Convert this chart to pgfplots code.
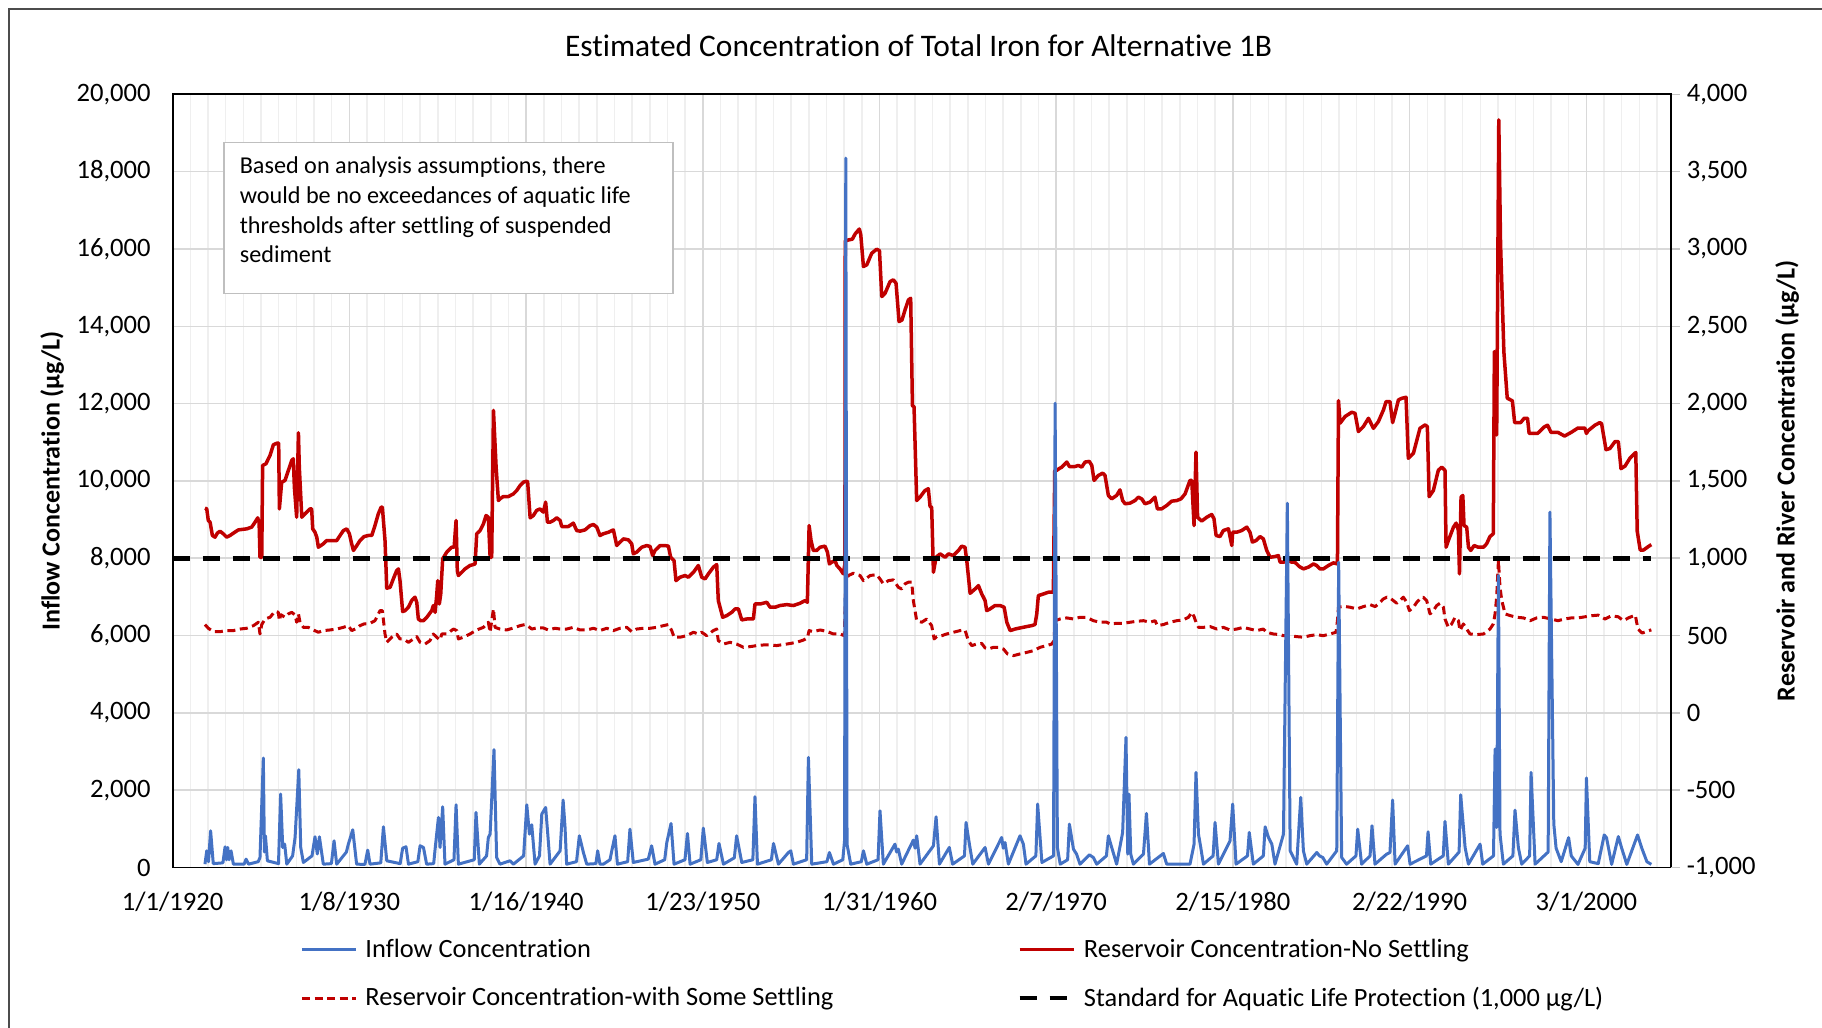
\documentclass[border=0pt]{standalone}
\usepackage{fontspec}
\setmainfont{Carlito}[Ligatures=NoCommon]
\usepackage{pgfplots}
\usepackage{pgfplotstable}
\pgfplotsset{compat=1.18}

\definecolor{inflowblue}{HTML}{4472C4}
\definecolor{resred}{HTML}{C00000}
\definecolor{gridmaj}{HTML}{D9D9D9}
\definecolor{gridmin}{HTML}{EFEFEF}

% x = years since 1/1/1920, y = inflow concentration (ug/L, left axis)
\pgfplotstableread{
x y
1.83 86
1.93 431
2.03 150
2.15 949
2.30 100
2.85 120
2.97 535
3.05 200
3.12 518
3.20 200
3.31 431
3.44 86
4.05 86
4.16 216
4.30 86
4.85 150
4.95 259
5.14 2831
5.20 400
5.26 820
5.37 173
6.00 100
6.12 1899
6.24 518
6.35 604
6.47 86
6.80 300
6.94 777
7.15 2529
7.26 518
7.41 130
7.90 300
8.07 794
8.20 350
8.32 794
8.54 86
9.00 100
9.15 690
9.30 86
9.85 400
9.96 604
10.21 975
10.43 86
10.90 80
11.06 449
11.19 86
11.80 120
11.95 1053
12.14 173
12.90 100
13.04 500
13.23 535
13.37 86
13.90 150
14.03 561
14.22 518
14.40 86
14.80 100
14.88 475
15.07 1295
15.16 518
15.31 1571
15.44 86
15.95 200
16.07 1622
16.20 86
17.10 200
17.20 1424
17.39 86
17.80 300
17.90 777
18.00 863
18.22 3046
18.37 259
18.56 86
19.13 173
19.32 86
19.90 300
20.08 1622
20.23 863
20.36 1105
20.55 86
20.80 300
20.93 1381
21.15 1553
21.27 863
21.40 86
21.97 431
22.14 1743
22.25 1036
22.34 86
22.90 150
23.06 820
23.29 388
23.48 86
24.00 100
24.10 431
24.23 86
24.42 86
24.80 200
24.90 431
25.08 820
25.22 86
25.80 150
25.93 992
26.12 130
26.97 216
27.16 561
27.35 86
27.90 200
28.02 647
28.26 1139
28.43 86
29.05 200
29.19 880
29.34 86
29.95 200
30.09 1018
30.32 130
30.85 200
30.98 621
31.23 86
31.85 250
31.98 820
32.27 130
32.90 200
33.02 1830
33.16 86
33.95 200
34.07 621
34.35 86
34.92 388
35.05 431
35.20 86
35.95 200
36.05 2848
36.24 86
37.10 150
37.24 388
37.47 86
38.00 200
38.10 700
38.17 18347
38.24 600
38.45 86
39.05 150
39.17 431
39.36 86
40.00 200
40.11 1467
40.30 86
40.96 604
41.05 400
41.15 475
41.34 86
42.00 708
42.10 500
42.19 820
42.38 86
43.14 561
43.29 1312
43.48 86
44.04 518
44.23 86
44.90 300
44.99 1165
45.18 604
45.37 86
46.07 518
46.26 86
47.01 777
47.10 500
47.20 647
47.39 86
48.05 820
48.24 604
48.39 86
48.95 300
49.05 1640
49.29 130
49.95 300
50.04 12009
50.17 518
50.33 86
50.75 200
50.85 1122
51.08 475
51.26 345
51.45 86
51.98 328
52.21 259
52.40 86
52.95 300
53.06 820
53.25 518
53.53 86
53.87 906
54.06 3366
54.16 345
54.23 1899
54.33 345
54.48 86
55.05 345
55.22 1398
55.39 86
56.18 362
56.37 86
57.69 86
57.92 604
58.03 2460
58.17 863
58.30 518
58.45 86
59.00 300
59.11 1165
59.30 86
59.96 690
60.11 1640
60.30 86
60.95 300
61.05 906
61.28 86
61.85 300
61.95 1053
62.14 777
62.33 604
62.51 86
62.99 863
63.21 9424
63.37 431
63.74 86
63.97 1812
64.12 431
64.31 86
64.88 388
65.03 302
65.22 259
65.44 86
66.01 431
66.12 7896
66.29 259
66.57 86
67.10 300
67.20 992
67.42 86
67.90 300
68.01 1079
68.18 86
68.84 345
69.03 388
69.18 1743
69.32 86
70.03 561
70.17 86
71.10 300
71.19 923
71.34 86
72.05 300
72.15 1191
72.34 86
72.95 400
73.04 1881
73.29 518
73.48 86
74.14 604
74.29 86
74.90 300
74.99 3064
75.08 1036
75.18 7551
75.27 863
75.46 86
76.00 300
76.12 1484
76.31 518
76.50 86
76.95 300
77.03 2460
77.26 86
78.00 400
78.10 9191
78.32 1123
78.45 500
78.74 150
79.16 772
79.31 300
79.69 80
80.10 500
80.17 2317
80.36 150
80.84 100
81.18 842
81.31 770
81.60 80
81.98 800
82.17 500
82.46 80
83.07 842
83.31 500
83.60 150
83.85 80
}\inflowdata

% reservoir concentration, no settling (right axis)
\pgfplotstableread{
x y
1.83 1324
1.93 1319
2.02 1244
2.12 1233
2.25 1147
2.40 1136
2.53 1162
2.68 1175
2.87 1158
3.06 1136
3.25 1147
3.44 1162
3.72 1183
4.20 1190
4.48 1201
4.67 1233
4.82 1261
4.90 1233
4.95 1006
5.05 1006
5.10 1600
5.29 1611
5.52 1665
5.71 1734
5.94 1745
6.01 1745
6.05 1319
6.18 1492
6.37 1503
6.56 1568
6.75 1632
6.84 1643
6.90 1460
7.03 1265
7.13 1811
7.18 1589
7.32 1265
7.41 1276
7.60 1298
7.79 1319
7.88 1319
7.94 1190
8.07 1168
8.17 1136
8.26 1071
8.54 1093
8.73 1114
9.11 1114
9.30 1114
9.49 1147
9.68 1179
9.87 1190
10.02 1158
10.15 1093
10.25 1050
10.44 1082
10.62 1114
10.85 1140
11.10 1147
11.29 1147
11.47 1211
11.66 1287
11.82 1330
11.89 1330
12.04 1114
12.14 806
12.33 812
12.51 866
12.70 920
12.80 931
12.89 855
13.04 655
13.18 661
13.37 683
13.55 726
13.74 748
13.84 715
13.93 607
14.06 596
14.22 596
14.41 618
14.69 661
14.78 694
14.88 650
14.97 758
15.03 855
15.12 704
15.20 769
15.31 996
15.54 1039
15.82 1071
15.96 1071
16.07 1244
16.14 920
16.20 888
16.39 909
16.58 931
16.86 953
17.05 959
17.15 963
17.24 1158
17.43 1179
17.62 1222
17.77 1276
17.90 1265
18.00 1006
18.09 1006
18.19 1956
18.34 1589
18.47 1373
18.56 1384
18.75 1399
19.04 1399
19.32 1416
19.51 1438
19.70 1470
19.89 1492
20.08 1498
20.13 1492
20.27 1261
20.45 1276
20.64 1309
20.83 1319
21.02 1298
21.15 1363
21.25 1233
21.40 1233
21.59 1244
21.78 1261
21.97 1244
22.06 1205
22.25 1205
22.44 1205
22.72 1227
22.91 1179
23.10 1175
23.38 1183
23.67 1211
23.86 1218
24.05 1201
24.23 1147
24.42 1158
24.71 1168
24.99 1183
25.08 1136
25.18 1082
25.37 1104
25.56 1125
25.84 1119
26.03 1093
26.12 1028
26.31 1039
26.60 1071
26.88 1082
27.07 1076
27.22 1017
27.35 1050
27.64 1082
27.92 1082
28.11 1078
28.24 1006
28.43 985
28.54 855
28.77 877
29.06 888
29.24 877
29.53 909
29.81 953
30.00 877
30.19 866
30.38 899
30.66 942
30.85 959
30.94 726
31.19 618
31.42 629
31.70 650
31.89 672
32.08 672
32.27 601
32.55 607
32.93 607
33.02 704
33.31 704
33.69 715
33.88 683
34.16 683
34.44 694
34.82 700
35.20 694
35.58 709
35.86 726
35.99 715
36.09 1211
36.20 1114
36.33 1050
36.52 1050
36.71 1071
36.99 1078
37.13 1039
37.24 963
37.37 974
37.56 985
37.66 953
37.84 931
38.03 899
38.12 963
38.14 3052
38.32 3058
38.54 3063
38.70 3097
38.94 3129
39.02 3091
39.17 2886
39.36 2897
39.64 2972
39.92 2998
40.08 2989
40.21 2692
40.40 2714
40.68 2789
40.87 2800
41.02 2778
41.19 2530
41.36 2541
41.53 2606
41.72 2670
41.85 2681
41.95 1985
42.04 1980
42.19 1373
42.38 1395
42.66 1438
42.85 1449
42.95 1334
43.04 1330
43.14 909
43.29 1006
43.52 1028
43.80 1006
43.99 1028
44.27 1017
44.56 1050
44.74 1078
44.93 1071
45.03 985
45.22 773
45.50 801
45.69 823
45.88 769
46.07 726
46.16 661
46.35 672
46.63 694
46.92 694
47.15 683
47.30 586
47.49 532
47.77 542
48.05 549
48.43 558
48.71 564
48.90 571
49.00 640
49.09 758
49.38 769
49.66 780
49.94 780
50.02 1568
50.13 1568
50.25 1578
50.42 1589
50.51 1600
50.70 1622
50.85 1593
51.17 1593
51.36 1600
51.55 1589
51.74 1622
51.98 1626
52.12 1600
52.25 1503
52.49 1535
52.74 1550
52.87 1535
53.06 1406
53.25 1384
53.53 1406
53.72 1442
53.87 1373
54.01 1352
54.29 1356
54.57 1373
54.76 1395
54.95 1384
55.14 1352
55.42 1363
55.70 1395
55.84 1319
56.08 1319
56.37 1341
56.65 1369
56.94 1373
57.18 1384
57.41 1416
57.69 1503
57.79 1503
57.92 1211
58.03 1686
58.12 1265
58.35 1240
58.64 1265
58.92 1283
59.05 1255
59.17 1147
59.39 1140
59.58 1179
59.87 1190
60.06 1082
60.11 1168
60.34 1168
60.62 1179
60.91 1201
61.09 1168
61.23 1104
61.43 1114
61.66 1140
61.85 1125
62.04 1050
62.23 1006
62.51 1011
62.70 1017
62.80 974
62.98 974
63.27 985
63.46 974
63.64 974
63.89 946
64.12 931
64.40 942
64.69 963
64.87 953
65.06 931
65.25 931
65.54 953
65.82 970
66.05 963
66.11 2019
66.20 1873
66.48 1916
66.86 1944
67.05 1937
67.24 1819
67.52 1851
67.81 1905
68.09 1840
68.37 1883
68.66 1959
68.81 2013
69.03 2013
69.18 1877
69.32 1937
69.51 2024
69.70 2034
69.94 2041
70.07 1646
70.36 1679
70.73 1840
71.02 1862
71.15 1851
71.25 1398
71.49 1438
71.77 1568
71.96 1589
72.15 1568
72.21 1071
72.34 1114
72.63 1201
72.78 1227
72.91 1179
72.97 899
73.06 1395
73.16 1406
73.23 1211
73.38 1201
73.48 1071
73.61 1050
73.80 1082
74.04 1071
74.33 1071
74.51 1093
74.70 1140
74.89 1158
74.95 2336
75.08 1797
75.20 3834
75.30 3035
75.49 2333
75.68 2035
75.97 2018
76.10 1877
76.44 1877
76.64 1905
76.83 1905
76.92 1807
77.40 1807
77.78 1849
77.97 1860
78.16 1814
78.55 1814
78.93 1790
79.31 1814
79.69 1842
80.08 1842
80.17 1807
80.27 1825
80.65 1860
80.93 1877
81.03 1870
81.28 1702
81.50 1709
81.79 1754
81.98 1754
82.13 1579
82.36 1596
82.65 1649
82.97 1684
83.05 1175
83.22 1053
83.41 1053
83.70 1077
83.85 1088
}\nosettle

% reservoir concentration, with some settling (right axis)
\pgfplotstableread{
x y
1.83 571
2.02 547
2.31 525
2.68 525
3.06 532
3.44 532
3.82 542
4.20 547
4.58 564
4.86 586
4.95 510
5.05 571
5.24 607
5.52 618
5.80 657
5.99 650
6.05 596
6.13 635
6.37 618
6.56 640
6.75 650
6.94 633
7.03 586
7.13 640
7.22 586
7.41 553
7.69 553
7.98 536
8.26 521
8.54 532
8.92 536
9.30 542
9.68 553
9.96 564
10.15 532
10.44 547
10.62 564
10.85 575
11.19 579
11.47 596
11.76 661
11.89 661
12.04 510
12.14 456
12.42 489
12.70 510
12.89 478
13.08 478
13.37 456
13.65 478
13.84 493
14.03 456
14.31 445
14.59 467
14.78 510
14.97 489
15.16 471
15.26 510
15.54 510
15.92 542
16.11 532
16.20 478
16.48 489
16.86 510
17.24 536
17.62 553
17.90 586
18.00 521
18.09 596
18.19 672
18.28 553
18.56 542
18.94 536
19.32 549
19.70 564
19.98 571
20.17 560
20.36 542
20.64 549
21.02 549
21.30 536
21.68 547
21.97 542
22.34 542
22.72 553
23.10 536
23.48 536
23.86 547
24.23 532
24.61 547
24.99 532
25.37 547
25.75 553
26.03 525
26.31 542
26.69 547
27.07 547
27.45 553
27.83 564
28.11 571
28.30 532
28.43 489
28.77 489
29.15 499
29.53 521
29.81 510
30.00 521
30.28 499
30.66 532
30.85 542
30.94 467
31.23 445
31.61 456
31.98 445
32.36 424
32.74 428
33.12 435
33.50 439
33.88 439
34.25 435
34.82 445
35.39 456
35.77 471
35.99 484
36.09 532
36.33 525
36.71 536
37.09 527
37.47 510
37.84 510
38.09 499
38.17 855
38.32 888
38.60 903
38.98 888
39.17 855
39.55 888
39.92 894
40.11 866
40.30 834
40.59 855
40.87 860
41.15 812
41.34 801
41.53 834
41.72 845
41.91 845
42.00 726
42.19 596
42.48 586
42.76 607
43.04 564
43.18 478
43.33 493
43.61 499
43.89 510
44.27 521
44.65 532
44.93 536
45.12 467
45.31 435
45.60 445
45.88 449
46.07 420
46.26 413
46.54 424
46.82 424
47.11 413
47.34 381
47.68 370
48.05 381
48.43 391
48.81 402
49.19 424
49.57 435
49.85 445
49.98 467
50.04 596
50.32 607
50.70 614
51.08 607
51.45 618
51.83 618
52.21 596
52.59 586
52.97 586
53.15 575
53.53 579
53.91 579
54.29 586
54.67 592
55.05 596
55.42 586
55.71 596
55.84 564
56.18 571
56.56 586
56.94 596
57.31 601
57.60 618
57.79 650
57.92 622
58.03 586
58.17 553
58.45 553
58.83 558
59.21 542
59.58 553
59.96 536
60.34 542
60.72 553
61.09 542
61.47 532
61.85 542
62.04 521
62.42 510
62.80 506
62.98 499
63.36 499
63.74 493
64.12 489
64.49 499
64.87 506
65.25 499
65.63 510
65.97 521
66.05 596
66.11 683
66.39 689
66.77 683
67.15 672
67.52 687
67.90 700
68.19 687
68.47 715
68.66 737
68.85 748
69.03 743
69.22 726
69.41 709
69.60 726
69.79 748
69.98 715
70.13 661
70.36 683
70.55 715
70.73 737
70.92 748
71.11 726
71.30 640
71.49 661
71.68 694
71.87 709
72.06 683
72.15 607
72.34 553
72.53 575
72.72 618
72.91 596
73.00 532
73.19 575
73.38 542
73.57 510
73.95 506
74.33 510
74.70 542
74.89 575
74.99 640
75.08 748
75.18 985
75.27 812
75.37 726
75.56 640
75.84 629
76.22 618
76.60 614
76.98 596
77.35 614
77.73 618
78.16 607
78.55 596
78.93 607
79.31 614
79.69 614
80.08 621
80.46 628
80.84 632
81.22 607
81.60 628
81.98 621
82.27 596
82.55 614
82.94 632
83.09 544
83.32 516
83.85 537
}\somesettle

\begin{document}
\begin{tikzpicture}
\useasboundingbox (0,0) rectangle (911pt,514pt);
\draw[black!70, line width=1pt] (4.5pt,-10pt) -- (4.5pt,509.5pt) -- (925pt,509.5pt);
\node[anchor=base, font=\fontsize{15.7}{18}\selectfont, inner sep=0pt] at (459.3pt,485.8pt) {Estimated Concentration of Total Iron for Alternative 1B};

% ---------- axis 1: frame, grid, left scale, dates ----------
\begin{axis}[
  at={(86.35pt,80.25pt)}, anchor=south west,
  scale only axis, width=749pt, height=386.6pt,
  xmin=0, xmax=84.95, ymin=0, ymax=20000,
  xtick={0,10.0205,20.041,30.0616,40.0821,50.1027,60.1232,70.1437,80.1643},
  xticklabels={1/1/1920,1/8/1930,1/16/1940,1/23/1950,1/31/1960,2/7/1970,2/15/1980,2/22/1990,3/1/2000},
  minor xtick={1.00205,2.0041,...,84.9},
  ytick={0,2000,...,20000},
  xmajorgrids, xminorgrids, ymajorgrids,
  major grid style={draw=gridmaj, line width=0.75pt},
  minor grid style={draw=gridmin, line width=0.75pt},
  tick style={draw=none},
  axis line style={black, line width=0.8pt},
  tick label style={font=\fontsize{13.3}{16}\selectfont},
  /pgf/number format/assume math mode=true,
  /pgf/number format/1000 sep={,},
  scaled y ticks=false,
  yticklabel style={xshift=-7.5pt},
  xticklabel style={anchor=base, yshift=-21.3pt},
  ylabel={Inflow Concentration (µg/L)},
  ylabel style={font=\bfseries\fontsize{13}{16}\selectfont, at={(axis description cs:0,0.5)}, anchor=center, yshift=60.3pt},
]
\end{axis}

% ---------- axis 2: reservoir series, right scale ----------
\begin{axis}[
  at={(86.35pt,80.25pt)}, anchor=south west,
  scale only axis, width=749pt, height=386.6pt,
  xmin=0, xmax=84.95, ymin=-1000, ymax=4000,
  axis y line*=right, axis x line=none,
  ytick={-1000,-500,...,4000},
  tick align=outside, major tick length=4.5pt,
  ytick style={draw=gray!45, line width=0.75pt},
  y axis line style={black, line width=0.8pt},
  tick label style={font=\fontsize{13.3}{16}\selectfont},
  /pgf/number format/assume math mode=true,
  /pgf/number format/1000 sep={,},
  scaled y ticks=false,
  ylabel={Reservoir and River Concentration (µg/L)},
  ylabel style={font=\bfseries\fontsize{13}{16}\selectfont, at={(axis description cs:1,0.5)}, anchor=center, yshift=-58.2pt},
  legend columns=2,
  legend cell align=left,
  legend image code/.code={\draw[#1] (0pt,0pt) -- (27pt,0pt);},
  legend style={at={(0.085,-0.0918)}, anchor=north west, draw=none, fill=none,
    font=\fontsize{13.2}{16}\selectfont, inner sep=0pt, row sep=13.4pt,
    nodes={inner sep=0pt},
    /tikz/every odd column/.append style={column sep=4pt},
    /tikz/every even column/.append style={column sep=92pt}},
]
\addlegendimage{inflowblue, line width=1.5pt}
\addlegendentry{Inflow Concentration}
\addplot[resred, line width=1.75pt, line join=round] table {\nosettle};
\addlegendentry{Reservoir Concentration-No Settling}
\addplot[resred, line width=1.5pt, line join=round, dash pattern=on 4pt off 2.3pt] table {\somesettle};
\addlegendentry{Reservoir Concentration-with Some Settling}
\addplot[black, line width=2.3pt, dash pattern=on 8.5pt off 6.5pt] coordinates {(0,1000) (83.85,1000)};
\addlegendentry{Standard for Aquatic Life Protection (1,000 µg/L)}
\end{axis}

% ---------- axis 3: inflow series on top ----------
\begin{axis}[
  at={(86.35pt,80.25pt)}, anchor=south west,
  scale only axis, width=749pt, height=386.6pt,
  xmin=0, xmax=84.95, ymin=0, ymax=20000,
  hide axis,
]
\addplot[inflowblue, line width=1.5pt, line join=round] table {\inflowdata};
\end{axis}

% ---------- annotation box ----------
\node[draw=gray!50, fill=white, line width=0.75pt, anchor=north west, minimum width=224.5pt, minimum height=75.5pt, inner sep=0pt] at (111.5pt,443pt) {};
\begin{scope}[every node/.style={anchor=base west, inner sep=0pt, font=\fontsize{12.1}{14}\selectfont}]
\node at (119.7pt,427.0pt) {Based on analysis assumptions, there};
\node at (119.7pt,412.2pt) {would be no exceedances of aquatic life};
\node at (119.7pt,397.4pt) {thresholds after settling of suspended};
\node at (119.7pt,382.8pt) {sediment};
\end{scope}
\end{tikzpicture}
\end{document}
